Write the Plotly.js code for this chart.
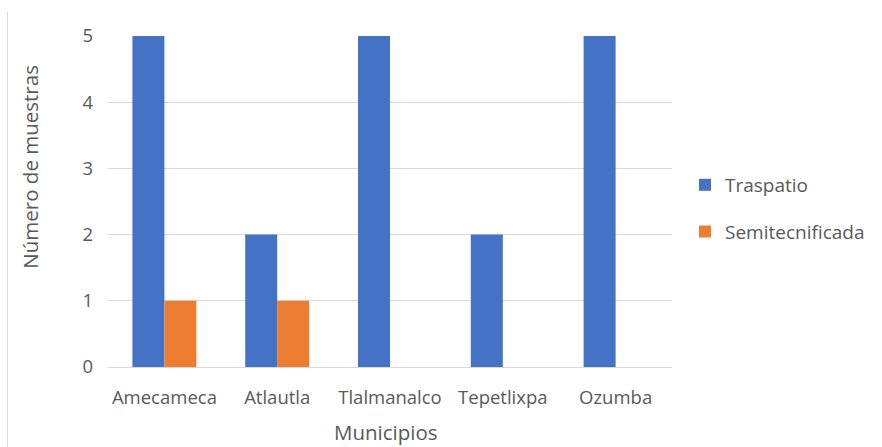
<!DOCTYPE html>
<html><head><meta charset="utf-8">
<script src="https://cdn.plot.ly/plotly-3.0.1.min.js"></script>
<style>
html,body{margin:0;padding:0;background:#fff;}
#wrap{position:relative;width:882px;height:447px;}
#edge{position:absolute;left:7px;top:12px;width:1px;height:435px;background:#d9d9d9;}
#chart{position:absolute;left:0;top:0;width:882px;height:447px;}
</style></head>
<body><div id="wrap"><div id="edge"></div><div id="chart"></div></div>
<script>
const categories = ["Amecameca","Atlautla","Tlalmanalco","Tepetlixpa","Ozumba"];
const traspatio = [5,2,5,2,5];
const semitecnificada = [1,1,0,0,0];
const yTicks = [0,1,2,3,4,5];

const font = {family:"Open Sans, Liberation Sans, sans-serif", color:"#595959"};
const data = [
  {type:"bar", name:"Traspatio", x:categories, y:traspatio, marker:{color:"#4472C4"}, legendgroup:"a"},
  {type:"bar", name:"Semitecnificada", x:categories, y:semitecnificada, marker:{color:"#ED7D31"}, legendgroup:"b"}
];
const layout = {
  width:882, height:447,
  margin:{l:108, r:210, t:36, b:80},
  paper_bgcolor:"rgba(0,0,0,0)", plot_bgcolor:"rgba(0,0,0,0)",
  barmode:"group", bargap:0.433, bargroupgap:0,
  font:Object.assign({size:18.5}, font),
  xaxis:{type:"category", showgrid:false, showline:false, ticks:"", ticklabelstandoff:17, tickfont:Object.assign({size:18.5},font), fixedrange:true},
  yaxis:{range:[0,5], tickvals:yTicks, showgrid:true, gridcolor:"#d9d9d9", gridwidth:1, zeroline:true, zerolinecolor:"#d9d9d9", zerolinewidth:1, showline:false, ticks:"", ticklabelstandoff:14, tickfont:Object.assign({size:18.5},font), fixedrange:true},
  showlegend:true,
  legend:{x:1.023, xanchor:"left", y:0.479, yanchor:"middle", traceorder:"grouped", tracegroupgap:19, font:Object.assign({size:19},font), itemwidth:30},
  annotations:[
    {xref:"paper", yref:"paper", x:-0.139, y:0.604, text:"Número de muestras", textangle:-90, showarrow:false, font:Object.assign({size:20.5},font), xanchor:"center", yanchor:"middle"},
    {xref:"paper", yref:"paper", x:0.493, y:-0.196, text:"Municipios", showarrow:false, font:Object.assign({size:20.5},font), xanchor:"center", yanchor:"middle"}
  ]
};
Plotly.newPlot("chart", data, layout, {displayModeBar:false, staticPlot:true});
</script></body></html>
